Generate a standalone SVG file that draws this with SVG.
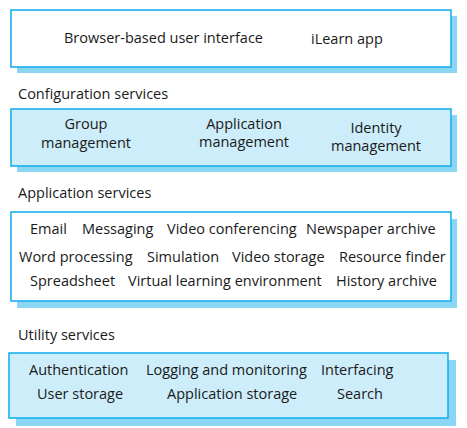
<svg xmlns="http://www.w3.org/2000/svg" width="467" height="428" viewBox="0 0 467 428">
<style>
text{font-family:"Open Sans","Liberation Sans",sans-serif;font-size:14.5px;fill:#1a1a1a}
.sh{fill:#8AD6F4}
.bx{stroke:#1BB0EE;stroke-width:1.6}
.w{fill:#ffffff}
.b{fill:#CCEDF9}
.c{text-anchor:middle}
</style>
<rect width="467" height="428" fill="#ffffff"/>
<g id="ui">
<rect class="sh" x="17" y="16" width="440" height="57"/>
<rect class="bx w" x="11" y="10" width="440" height="57"/>
<text x="64" y="43">Browser-based user interface</text>
<text x="311" y="44">iLearn app</text>
</g>
<text x="18" y="99">Configuration services</text>
<g id="config">
<rect class="sh" x="17" y="115" width="440" height="57"/>
<rect class="bx b" x="11" y="109" width="440" height="57"/>
<text class="c" x="86" y="129">Group</text>
<text class="c" x="86" y="148">management</text>
<text class="c" x="244" y="129">Application</text>
<text class="c" x="244" y="147">management</text>
<text class="c" x="376" y="133">Identity</text>
<text class="c" x="376" y="151">management</text>
</g>
<text x="18" y="198">Application services</text>
<g id="app">
<rect class="sh" x="17" y="219" width="440" height="89"/>
<rect class="bx w" x="11" y="212" width="440" height="89"/>
<text x="30" y="234">Email</text>
<text x="82" y="234">Messaging</text>
<text x="167" y="234">Video conferencing</text>
<text x="306" y="234">Newspaper archive</text>
<text x="19" y="262">Word processing</text>
<text x="147" y="262">Simulation</text>
<text x="232" y="262">Video storage</text>
<text x="339" y="262">Resource finder</text>
<text x="30" y="286">Spreadsheet</text>
<text x="128" y="286">Virtual learning environment</text>
<text x="336" y="286">History archive</text>
</g>
<text x="18" y="340">Utility services</text>
<g id="utility">
<rect class="sh" x="16" y="360" width="440" height="66"/>
<rect class="bx b" x="9" y="353" width="439" height="65"/>
<text x="29" y="375">Authentication</text>
<text x="146" y="375">Logging and monitoring</text>
<text x="321" y="375">Interfacing</text>
<text x="37" y="399">User storage</text>
<text x="167" y="399">Application storage</text>
<text x="337" y="399">Search</text>
</g>
<g id="connectors"></g>
</svg>
